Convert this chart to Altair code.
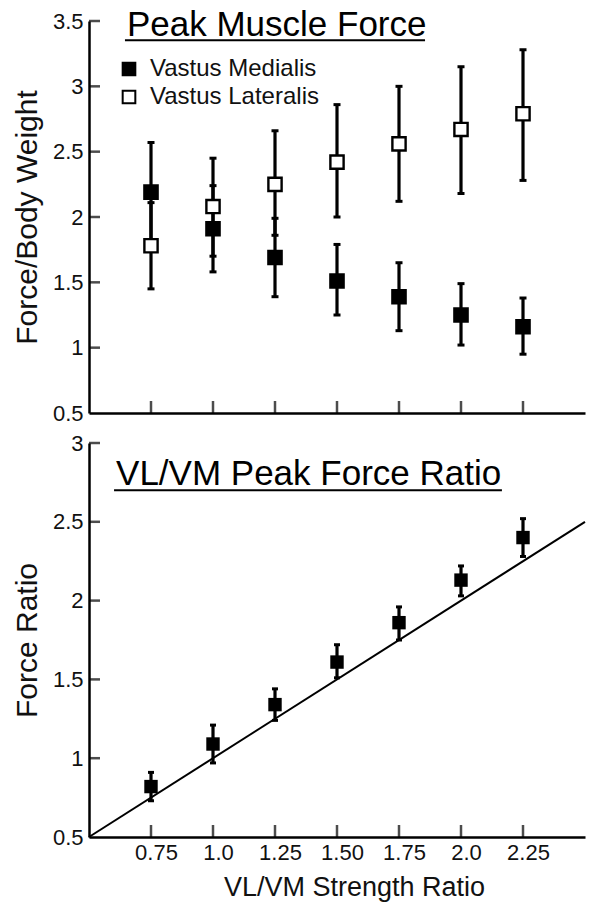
import altair as alt
import pandas as pd

# ---------------- data ----------------
x_vals = [0.75, 1.0, 1.25, 1.5, 1.75, 2.0, 2.25]
x_labels = ["0.75", "1.0", "1.25", "1.50", "1.75", "2.0", "2.25"]
muscles = ["Vastus Medialis", "Vastus Lateralis"]

vm_mean = [2.19, 1.91, 1.69, 1.51, 1.39, 1.25, 1.16]
vm_low = [1.81, 1.58, 1.39, 1.25, 1.13, 1.02, 0.95]
vm_high = [2.57, 2.24, 1.99, 1.79, 1.65, 1.49, 1.38]

vl_mean = [1.78, 2.08, 2.25, 2.42, 2.56, 2.67, 2.79]
vl_low = [1.45, 1.70, 1.86, 2.00, 2.12, 2.18, 2.28]
vl_high = [2.11, 2.45, 2.66, 2.86, 3.00, 3.15, 3.28]

ratio_mean = [0.82, 1.09, 1.34, 1.61, 1.86, 2.13, 2.40]
ratio_low = [0.73, 0.97, 1.24, 1.51, 1.75, 2.03, 2.28]
ratio_high = [0.91, 1.21, 1.44, 1.72, 1.96, 2.22, 2.52]

identity_x = [0.5, 2.5]
identity_y = [0.5, 2.5]

top_yvals = [0.5, 1.0, 1.5, 2.0, 2.5, 3.0, 3.5]
bottom_yvals = [0.5, 1.0, 1.5, 2.0, 2.5, 3.0]

FONT = "Liberation Sans"
W = 496

# ---------------- tables ----------------
top_df = pd.DataFrame({
    "x": x_vals * 2,
    "muscle": [muscles[0]] * len(x_vals) + [muscles[1]] * len(x_vals),
    "mean": vm_mean + vl_mean,
    "low": vm_low + vl_low,
    "high": vm_high + vl_high,
})
bot_df = pd.DataFrame({"x": x_vals, "mean": ratio_mean, "low": ratio_low, "high": ratio_high})
line_df = pd.DataFrame({"x": identity_x, "y": identity_y})
xt_df = pd.DataFrame({"x": x_vals})
yt_top_df = pd.DataFrame({"y": top_yvals[1:]})
yt_bot_df = pd.DataFrame({"y": bottom_yvals[1:]})

label_expr = "[" + ",".join("'%s'" % s for s in x_labels) + "][indexof([" + \
    ",".join(repr(v) for v in x_vals) + "], datum.value)]"

xscale = alt.Scale(domain=[0.5, 2.5], nice=False, zero=False)
ytop_scale = alt.Scale(domain=[0.5, 3.5], nice=False, zero=False)
ybot_scale = alt.Scale(domain=[0.5, 3.0], nice=False, zero=False)

x_top_axis = alt.Axis(values=x_vals, labels=False, ticks=False, tickSize=0, title=None, grid=False)
x_bot_axis = alt.Axis(values=x_vals, labelExpr=label_expr, ticks=False, tickSize=0, grid=False,
                      title="VL/VM Strength Ratio", labelPadding=5, labelOffset=5,
                      titlePadding=11, titleFontSize=27, titleX=265, titleAlign="center",
                      labelFont=FONT, titleFont=FONT)
y_top_axis = alt.Axis(values=top_yvals, labelExpr="'' + datum.value", ticks=False, tickSize=0,
                      grid=False, title="Force/Body Weight", labelPadding=6, titlePadding=10,
                      labelFont=FONT, titleFont=FONT)
y_bot_axis = alt.Axis(values=bottom_yvals, labelExpr="'' + datum.value", ticks=False, tickSize=0,
                      grid=False, title="Force Ratio", labelPadding=6, titlePadding=10,
                      labelFont=FONT, titleFont=FONT)

# ---------------- top panel ----------------
tb = alt.Chart(top_df)
X_top = alt.X("x:Q", scale=xscale, axis=x_top_axis)

top_bars = tb.mark_rule(color="black", strokeWidth=3.2).encode(
    x=X_top, y=alt.Y("low:Q", scale=ytop_scale, axis=y_top_axis), y2="high:Q")
top_cap_lo = tb.mark_tick(orient="horizontal", color="black", size=7, thickness=3, opacity=1).encode(
    x="x:Q", y="low:Q")
top_cap_hi = tb.mark_tick(orient="horizontal", color="black", size=7, thickness=3, opacity=1).encode(
    x="x:Q", y="high:Q")
top_pts = tb.mark_square(size=175, stroke="black", strokeWidth=2.4, opacity=1, fillOpacity=1).encode(
    x="x:Q", y="mean:Q",
    fill=alt.Fill("muscle:N", scale=alt.Scale(domain=muscles, range=["black", "white"]),
                  legend=alt.Legend(title=None, orient="none", legendX=28, legendY=36,
                                    symbolType="square", symbolSize=160,
                                    symbolStrokeColor="black", symbolStrokeWidth=2,
                                    symbolFillColor="white", labelFont=FONT, labelFontSize=24,
                                    labelColor="#111", labelOffset=9, rowPadding=4,
                                    labelLimit=400, padding=0)))
top_xticks = alt.Chart(xt_df).mark_tick(orient="vertical", color="black", size=12, thickness=2.5,
                                        yOffset=-6).encode(x="x:Q", y=alt.datum(0.5))
top_yticks = alt.Chart(yt_top_df).mark_tick(orient="horizontal", color="black", size=11,
                                            thickness=2.5, xOffset=5.5).encode(
    x=alt.datum(0.5), y="y:Q")
top_title = alt.Chart(pd.DataFrame({"t": ["Peak Muscle Force"]})).mark_text(
    align="left", baseline="alphabetic", font=FONT, fontSize=35, color="black").encode(
    x=alt.datum(0.653), y=alt.datum(3.385), text="t:N")
top_underline = alt.Chart(pd.DataFrame({"a": [0]})).mark_rule(color="black", strokeWidth=2).encode(
    x=alt.datum(0.645), x2=alt.datum(1.855), y=alt.datum(3.352))

top = alt.layer(top_bars, top_cap_lo, top_cap_hi, top_xticks, top_yticks, top_pts,
                top_title, top_underline).properties(width=W, height=392)

# ---------------- bottom panel ----------------
bb = alt.Chart(bot_df)
X_bot = alt.X("x:Q", scale=xscale, axis=x_bot_axis)
bot_line = alt.Chart(line_df).mark_line(color="black", strokeWidth=2).encode(
    x=X_bot, y=alt.Y("y:Q", scale=ybot_scale, axis=y_bot_axis))
bot_bars = bb.mark_rule(color="black", strokeWidth=3.2).encode(x="x:Q", y="low:Q", y2="high:Q")
bot_cap_lo = bb.mark_tick(orient="horizontal", color="black", size=6, thickness=3, opacity=1).encode(
    x="x:Q", y="low:Q")
bot_cap_hi = bb.mark_tick(orient="horizontal", color="black", size=6, thickness=3, opacity=1).encode(
    x="x:Q", y="high:Q")
bot_pts = bb.mark_square(size=180, color="black", opacity=1).encode(x="x:Q", y="mean:Q")
bot_xticks = alt.Chart(xt_df).mark_tick(orient="vertical", color="black", size=12, thickness=2.5,
                                        yOffset=-6).encode(x="x:Q", y=alt.datum(0.5))
bot_yticks = alt.Chart(yt_bot_df).mark_tick(orient="horizontal", color="black", size=11,
                                            thickness=2.5, xOffset=5.5).encode(
    x=alt.datum(0.5), y="y:Q")
bot_title = alt.Chart(pd.DataFrame({"t": ["VL/VM Peak Force Ratio"]})).mark_text(
    align="left", baseline="alphabetic", font=FONT, fontSize=35, color="black").encode(
    x=alt.datum(0.609), y=alt.datum(2.733), text="t:N")
bot_underline = alt.Chart(pd.DataFrame({"a": [0]})).mark_rule(color="black", strokeWidth=2).encode(
    x=alt.datum(0.601), x2=alt.datum(2.165), y=alt.datum(2.70))

bottom = alt.layer(bot_line, bot_bars, bot_cap_lo, bot_cap_hi, bot_xticks, bot_yticks, bot_pts,
                   bot_title, bot_underline).properties(width=W, height=394)

chart = alt.vconcat(top, bottom, spacing=8).properties(
    padding={"left": 4, "top": 0, "right": 5, "bottom": 5}
).configure(font=FONT).configure_view(stroke=None).configure_axis(
    domainColor="black", domainWidth=2.5, labelFont=FONT, labelFontSize=22, labelColor="#111",
    titleFont=FONT, titleFontSize=30, titleFontWeight="normal", titleColor="#111", grid=False
).configure_legend(labelFont=FONT)

chart.save("out.html", embed_options={"renderer": "svg", "actions": False})
